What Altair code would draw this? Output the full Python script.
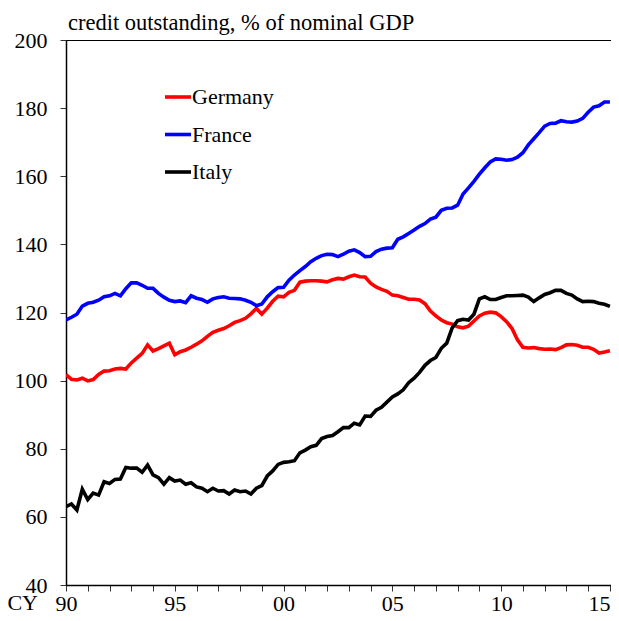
import altair as alt
import pandas as pd

# ---- data (quarterly, 1990Q1 .. 2015Q1), % of nominal GDP ----
countries = ["Germany", "France", "Italy"]
colors = ["#ff0000", "#0000ff", "#000000"]

germany = [101.8, 100.4, 100.2, 100.7, 99.9, 100.3, 101.8, 102.8, 102.9, 103.4,
           103.6, 103.4, 105.2, 106.6, 108.0, 110.5, 108.7, 109.4, 110.2, 111.0,
           107.6, 108.5, 109.0, 109.8, 110.7, 111.7, 113.0, 114.2, 114.8, 115.3,
           116.1, 117.1, 117.6, 118.3, 119.6, 121.2, 119.5, 121.3, 123.3, 124.8,
           124.6, 125.9, 126.5, 128.9, 129.2, 129.3, 129.3, 129.2, 129.0, 129.6,
           130.0, 129.8, 130.5, 131.0, 130.5, 130.4, 128.6, 127.5, 126.8, 126.2,
           125.1, 124.9, 124.4, 123.9, 123.9, 123.7, 122.6, 120.4, 119.0, 117.8,
           117.0, 116.6, 115.8, 115.5, 116.0, 117.5, 119.0, 119.8, 120.1, 119.9,
           118.8, 117.3, 115.3, 112.0, 109.8, 109.6, 109.7, 109.4, 109.2, 109.3,
           109.1, 109.7, 110.5, 110.6, 110.4, 109.8, 109.8, 109.2, 108.1, 108.4,
           108.8]

france = [117.8, 118.6, 119.5, 121.9, 122.7, 123.0, 123.6, 124.6, 124.9, 125.6,
          124.9, 127.0, 128.7, 128.7, 128.0, 127.1, 127.1, 125.6, 124.5, 123.6,
          123.2, 123.4, 122.9, 124.9, 124.2, 123.8, 123.0, 124.0, 124.4, 124.6,
          124.2, 124.1, 124.0, 123.6, 123.0, 122.0, 122.5, 124.6, 126.1, 127.3,
          127.4, 129.5, 131.0, 132.3, 133.5, 134.9, 135.9, 136.7, 137.1, 137.0,
          136.4, 137.1, 138.0, 138.4, 137.6, 136.4, 136.5, 137.9, 138.6, 138.9,
          139.0, 141.5, 142.2, 143.2, 144.2, 145.3, 146.1, 147.4, 148.0, 150.0,
          150.6, 150.7, 151.5, 154.8, 156.6, 158.5, 160.6, 162.5, 164.2, 165.1,
          165.0, 164.7, 164.9, 165.6, 166.9, 169.2, 171.0, 172.8, 174.7, 175.5,
          175.6, 176.3, 176.0, 175.9, 176.2, 177.0, 178.8, 180.3, 180.7, 181.8,
          181.8]

italy = [63.0, 63.8, 62.0, 68.1, 65.1, 67.0, 66.4, 70.3, 69.8, 71.0,
         71.1, 74.5, 74.3, 74.3, 73.1, 75.2, 72.3, 71.5, 69.6, 71.5,
         70.5, 70.8, 69.6, 70.0, 68.8, 68.4, 67.4, 68.4, 67.6, 67.7,
         66.7, 67.9, 67.4, 67.6, 66.7, 68.4, 69.2, 72.0, 73.5, 75.4,
         76.0, 76.2, 76.5, 78.8, 79.6, 80.6, 81.0, 83.0, 83.6, 83.9,
         85.0, 86.2, 86.2, 87.5, 87.0, 89.6, 89.5, 91.3, 92.2, 93.7,
         95.2, 96.1, 97.3, 99.4, 100.7, 102.4, 104.5, 105.9, 106.8, 109.5,
         111.0, 115.5, 117.6, 118.0, 117.8, 119.5, 124.0, 124.6, 123.8, 123.8,
         124.4, 124.9, 124.9, 125.0, 125.1, 124.5, 123.2, 124.3, 125.3, 125.8,
         126.5, 126.5, 125.6, 125.1, 124.0, 123.2, 123.3, 123.2, 122.7, 122.4,
         121.8]

years = [1990 + q / 4 for q in range(len(germany))]
year_ticks = list(range(1990, 2016))
y_ticks = list(range(40, 201, 20))

series = {"Germany": germany, "France": france, "Italy": italy}
rows = []
for c in countries:
    for t, v in zip(years, series[c]):
        rows.append({"t": t, "value": v, "country": c})
df = pd.DataFrame(rows)

FONT = "Liberation Serif"
FS = 22
W, H = 545, 545

axis_style = dict(title=None, grid=False, labelFont=FONT, labelFontSize=FS,
                  labelColor="black", domainColor="black", domainWidth=1.5,
                  tickColor="#333333", tickWidth=1)

lines = alt.Chart(df).mark_line(strokeWidth=3.6, clip=True).encode(
    x=alt.X("t:Q",
            scale=alt.Scale(domain=[1990, 2015.05], nice=False, zero=False),
            axis=alt.Axis(values=year_ticks,
                          labelExpr="datum.value % 5 == 0 ? substring(toString(datum.value), 2) : ''",
                          labelAlign=alt.ExprRef(expr="datum.value >= 2015 ? 'right' : 'center'"),
                          tickSize=6, labelPadding=2, labelFlush=False,
                          labelOverlap=False, **axis_style)),
    y=alt.Y("value:Q",
            scale=alt.Scale(domain=[40, 200], nice=False, zero=False),
            axis=alt.Axis(values=y_ticks, tickSize=6, labelPadding=13,
                          **axis_style)),
    color=alt.Color("country:N",
                    scale=alt.Scale(domain=countries, range=colors),
                    legend=None),
)

layers = [lines]

# manual legend
for i, c in enumerate(countries):
    yy = 57 + 37.5 * i
    layers.append(
        alt.Chart(pd.DataFrame({"country": [c]})).mark_rule(strokeWidth=3.6).encode(
            x=alt.value(99), x2=alt.value(125), y=alt.value(yy),
            color=alt.value(colors[i]))
    )
    layers.append(
        alt.Chart(pd.DataFrame({"country": [c]})).mark_text(
            align="left", baseline="middle", font=FONT, fontSize=FS, color="black").encode(
            x=alt.value(126), y=alt.value(yy), text="country:N")
    )

# title and CY label
layers.append(
    alt.Chart(pd.DataFrame({"txt": ["credit outstanding, % of nominal GDP"]})).mark_text(
        align="left", baseline="alphabetic", font=FONT, fontSize=22.5, color="black").encode(
        x=alt.value(2), y=alt.value(-10), text="txt:N")
)
layers.append(
    alt.Chart(pd.DataFrame({"txt": ["CY"]})).mark_text(
        align="right", baseline="alphabetic", font=FONT, fontSize=FS, color="black").encode(
        x=alt.value(-28), y=alt.value(H + 25), text="txt:N")
)

chart = alt.layer(*layers).properties(
    width=W, height=H,
    background="white",
    autosize=alt.AutoSizeParams(type="none"),
    padding={"left": 58, "top": 32, "right": 0, "bottom": 28},
).configure_view(
    stroke="black", strokeWidth=1
)

chart.save("out.html", embed_options={"renderer": "svg", "actions": False})
